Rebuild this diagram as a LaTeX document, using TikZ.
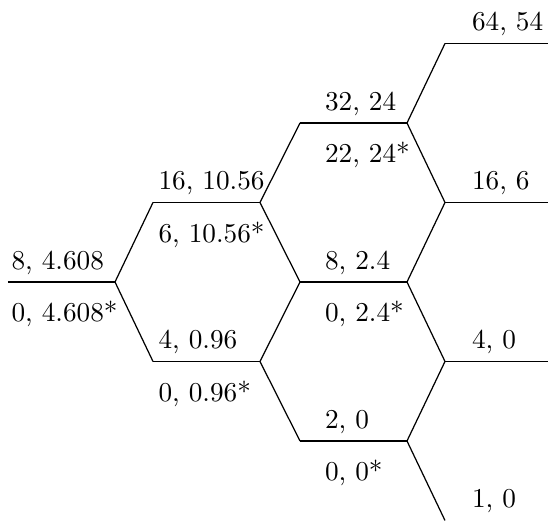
\documentclass[tikz,border=0pt]{standalone}
\begin{document}
\begin{tikzpicture}[x=0.367pt,y=-0.367pt,
        ramo/.style={line width=0.45pt},
        payoff/.style={anchor=base west,inner sep=0pt}]
    \useasboundingbox (0,0) rectangle (548,521);

    % vértices: início (s) e fim (e) de cada ramo horizontal
    \foreach \i/\xs/\xe in {0/8/115, 1/153/260, 2/300/407, 3/445/548}{
        \foreach \j in {0,...,\i}{
            \coordinate (s\i\j) at (\xs,282-79.5*\i+159*\j);
            \coordinate (e\i\j) at (\xe,282-79.5*\i+159*\j);
        }
    }
    \coordinate (s33) at (445,520.5);

    % ramos horizontais
    \foreach \i/\j in {0/0, 1/0, 1/1, 2/0, 2/1, 2/2, 3/0, 3/1, 3/2}{
        \draw[ramo] (s\i\j) -- (e\i\j);
    }

    % ramos diagonais (sobe / desce)
    \foreach \i/\j in {0/0, 1/0, 1/1, 2/0, 2/1, 2/2}{
        \pgfmathtruncatemacro{\ii}{\i+1}
        \pgfmathtruncatemacro{\jj}{\j+1}
        \draw[ramo] (e\i\j) -- (s\ii\j);
        \draw[ramo] (e\i\j) -- (s\ii\jj);
    }

    % payoffs acima de cada ramo
    \foreach \i/\j/\xl/\lab in {
        0/0/11/{8, 4.608},
        1/0/158/{16, 10.56},
        1/1/158/{4, 0.96},
        2/0/324.5/{32, 24},
        2/1/324.5/{8, 2.4},
        2/2/324.5/{2, 0},
        3/0/471.5/{64, 54},
        3/1/471.5/{16, 6},
        3/2/471.5/{4, 0},
        3/3/471.5/{1, 0}
    }{
        \node[payoff] (cima\i\j) at (\xl,282-79.5*\i+159*\j-12.5) {\lab};
    }

    % valores de exercício (*) abaixo de cada ramo
    \foreach \i/\j/\xl/\lab in {
        0/0/11/{0, 4.608*},
        1/0/158/{6, 10.56*},
        1/1/158/{0, 0.96*},
        2/0/324.5/{22, 24*},
        2/1/324.5/{0, 2.4*},
        2/2/324.5/{0, 0*}
    }{
        \node[payoff] (baixo\i\j) at (\xl,282-79.5*\i+159*\j+40) {\lab};
    }
\end{tikzpicture}
\end{document}
